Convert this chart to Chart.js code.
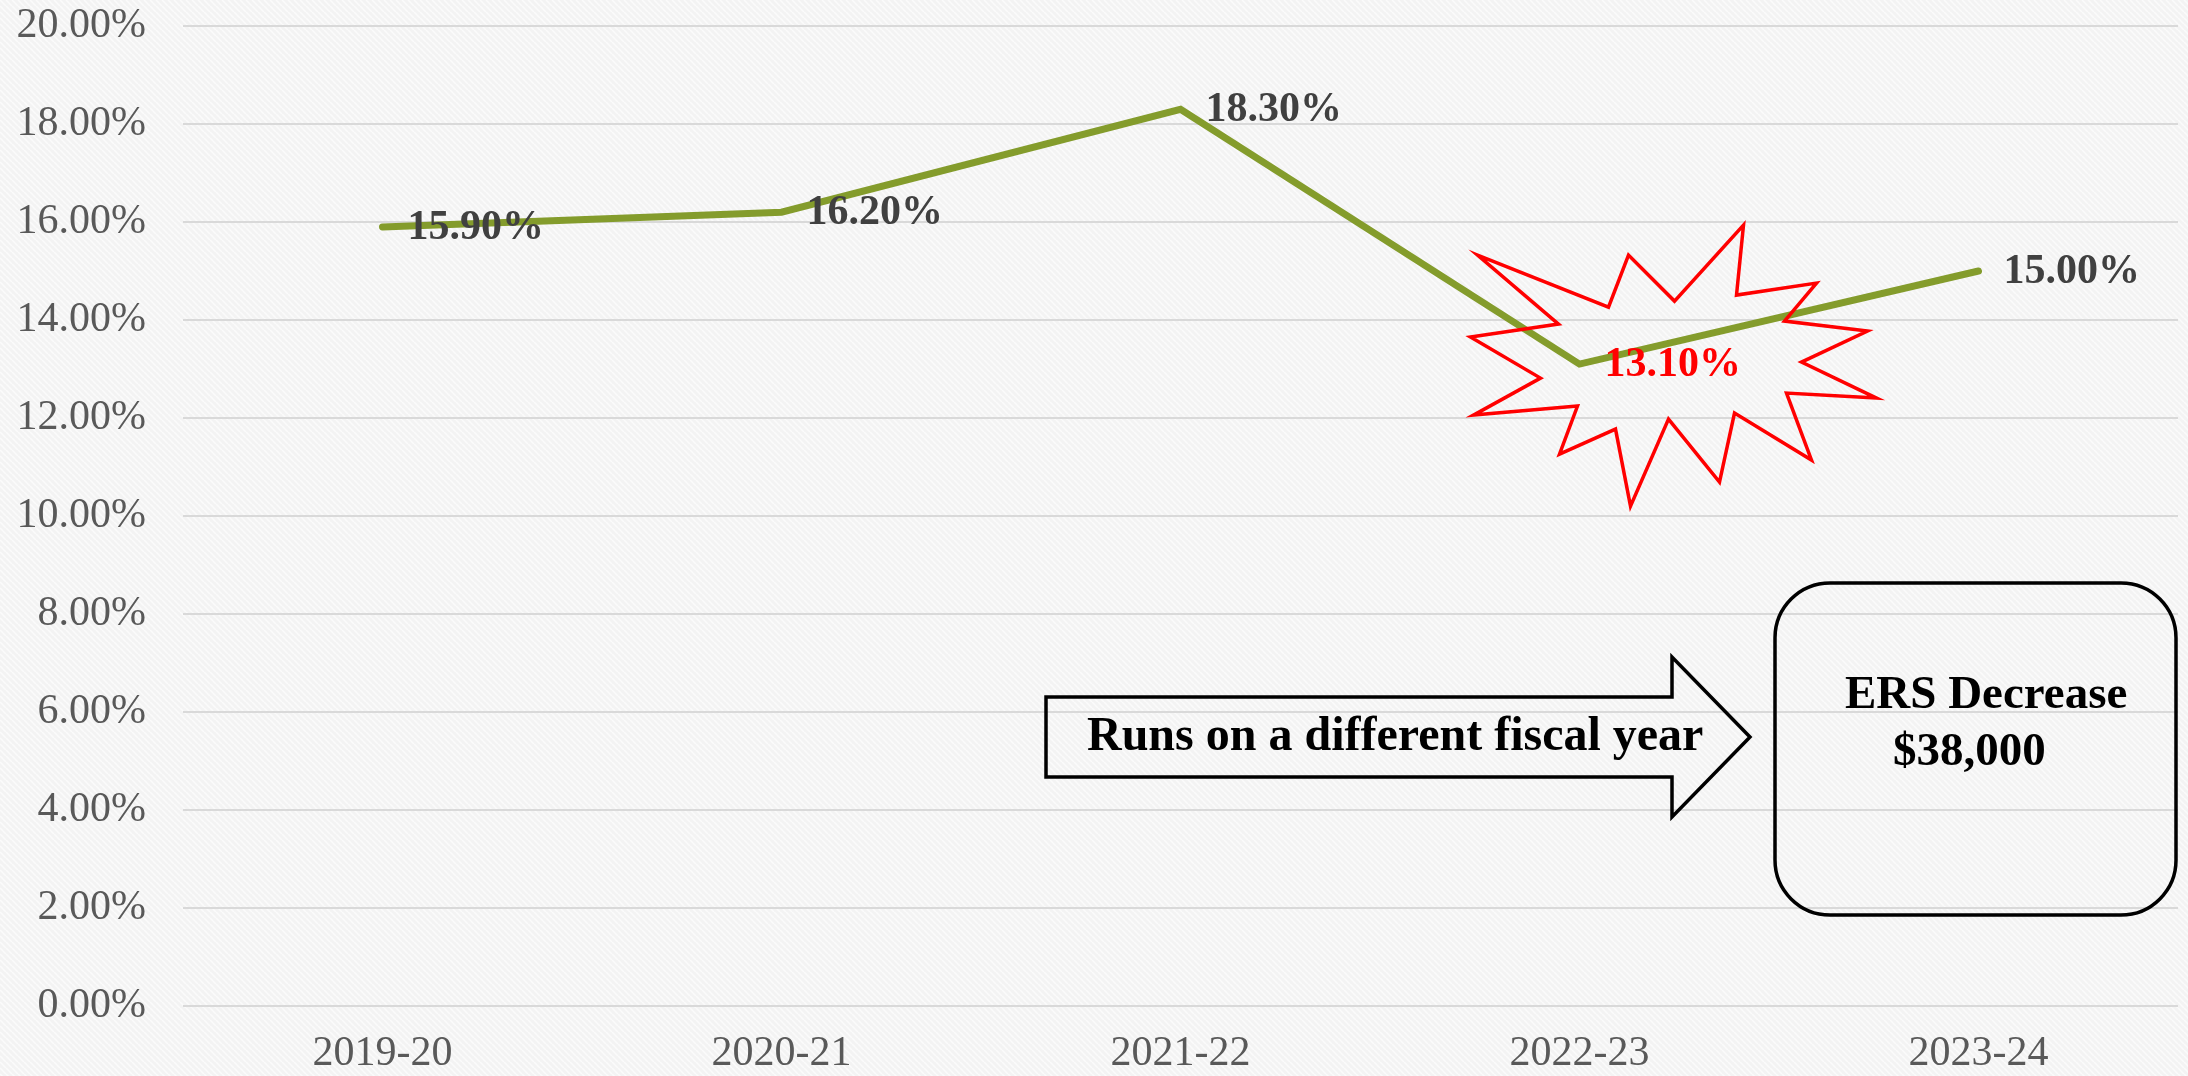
<!DOCTYPE html>
<html>
<head>
<meta charset="utf-8">
<script src="https://cdn.jsdelivr.net/npm/chart.js@4.4.1/dist/chart.umd.min.js"></script>
<style>
    html, body { margin: 0; padding: 0; background: #f3f3f3; }
    canvas { display: block; }
</style>
</head>
<body>
<canvas id="rateChart" width="2188" height="1076"></canvas>
<script>
// data
const years = ['2019-20', '2020-21', '2021-22', '2022-23', '2023-24'];
const rates = [15.9, 16.2, 18.3, 13.1, 15.0];
const labelColors = ['#404040', '#404040', '#404040', '#ff0000', '#404040'];
const yMin = 0;
const yMax = 20;
const yStep = 2;

const serif = '"Liberation Serif", "Times New Roman", serif';

// striped grey background like the slide
const bgPlugin = {
    id: 'bg',
    beforeDraw(chart) {
        const ctx = chart.ctx;
        const tile = document.createElement('canvas');
        tile.width = 6;
        tile.height = 6;
        const t = tile.getContext('2d');
        t.fillStyle = '#f3f3f3';
        t.fillRect(0, 0, 6, 6);
        t.strokeStyle = '#fbfbfb';
        t.lineWidth = 1.5;
        for (let k = -6; k <= 6; k += 6) {
            t.beginPath();
            t.moveTo(k, 0);
            t.lineTo(k + 6, 6);
            t.stroke();
        }
        ctx.save();
        ctx.fillStyle = ctx.createPattern(tile, 'repeat');
        ctx.fillRect(0, 0, chart.width, chart.height);
        ctx.restore();
    }
};

// value labels to the right of each point
const valueLabels = {
    id: 'valueLabels',
    afterDatasetsDraw(chart) {
        const ctx = chart.ctx;
        const meta = chart.getDatasetMeta(0);
        ctx.save();
        ctx.font = 'bold 42px ' + serif;
        ctx.textAlign = 'left';
        ctx.textBaseline = 'middle';
        meta.data.forEach((pt, i) => {
            ctx.fillStyle = labelColors[i];
            ctx.fillText(rates[i].toFixed(2) + '%', pt.x + 25, pt.y + 1);
        });
        ctx.restore();
    }
};

// starburst around the dip, the arrow and the note box
const shapes = {
    id: 'shapes',
    afterDraw(chart) {
        const ctx = chart.ctx;
        const p = chart.getDatasetMeta(0).data[3];

        // starburst, drawn around the 2022-23 point
        const burst = [
            [-102, -109], [29, -57], [49, -109], [95, -63], [164, -139], [157, -69],
            [237, -81], [205, -43], [288, -33], [222, -2], [297, 34], [207, 29],
            [232, 96], [155, 49], [140, 118], [89, 55], [51, 142], [36, 65],
            [-20, 90], [-2, 42], [-106, 51], [-39, 14], [-109, -27], [-21, -40]
        ];
        ctx.save();
        ctx.strokeStyle = '#ff0000';
        ctx.lineWidth = 3.5;
        ctx.lineJoin = 'miter';
        ctx.beginPath();
        burst.forEach(([dx, dy], i) => {
            if (i === 0) ctx.moveTo(p.x + dx, p.y + dy);
            else ctx.lineTo(p.x + dx, p.y + dy);
        });
        ctx.closePath();
        ctx.stroke();

        // block arrow
        ctx.strokeStyle = '#000';
        ctx.lineWidth = 3.5;
        ctx.beginPath();
        ctx.moveTo(1046, 697);
        ctx.lineTo(1672, 697);
        ctx.lineTo(1672, 657);
        ctx.lineTo(1750, 737);
        ctx.lineTo(1672, 817);
        ctx.lineTo(1672, 777);
        ctx.lineTo(1046, 777);
        ctx.closePath();
        ctx.stroke();

        ctx.fillStyle = '#000';
        ctx.font = 'bold 48px ' + serif;
        ctx.textAlign = 'left';
        ctx.textBaseline = 'alphabetic';
        ctx.fillText('Runs on a different fiscal year', 1087, 750, 618);

        // rounded box
        const bx = 1775, by = 583, bw = 401, bh = 332, r = 55;
        ctx.lineWidth = 3.5;
        ctx.beginPath();
        ctx.roundRect(bx, by, bw, bh, r);
        ctx.stroke();

        ctx.font = 'bold 47px ' + serif;
        ctx.fillText('ERS Decrease', 1845, 708);
        ctx.fillText('$38,000', 1893, 765);
        ctx.restore();
    }
};

new Chart(
    document.getElementById('rateChart'),
    {
        type: 'line',
        data: {
            labels: years,
            datasets: [{
                data: rates,
                borderColor: '#849c2c',
                borderWidth: 7,
                pointRadius: 0,
                tension: 0,
                borderCapStyle: 'round',
                borderJoinStyle: 'miter'
            }]
        },
        options: {
            responsive: false,
            animation: false,
            layout: {
                padding: { top: 0, right: 10, left: 0, bottom: 0 }
            },
            scales: {
                y: {
                    min: yMin,
                    max: yMax,
                    afterFit(scale) {
                        scale.width = 183;
                        scale.paddingTop = 26;
                        scale.paddingBottom = 0;
                    },
                    border: { display: false },
                    grid: {
                        color: '#d9d9d9',
                        lineWidth: 2,
                        drawTicks: false
                    },
                    ticks: {
                        stepSize: yStep,
                        padding: 37,
                        color: '#595959',
                        font: { family: serif, size: 42 },
                        callback: v => v.toFixed(2) + '%'
                    }
                },
                x: {
                    offset: true,
                    afterFit(scale) { scale.height = 70; },
                    border: { display: false },
                    grid: { display: false, drawTicks: false, offset: true },
                    ticks: {
                        padding: 23,
                        color: '#595959',
                        maxRotation: 0,
                        font: { family: serif, size: 42 }
                    }
                }
            },
            plugins: {
                legend: { display: false },
                tooltip: { enabled: false }
            }
        },
        plugins: [bgPlugin, valueLabels, shapes]
    }
);
</script>
</body>
</html>
